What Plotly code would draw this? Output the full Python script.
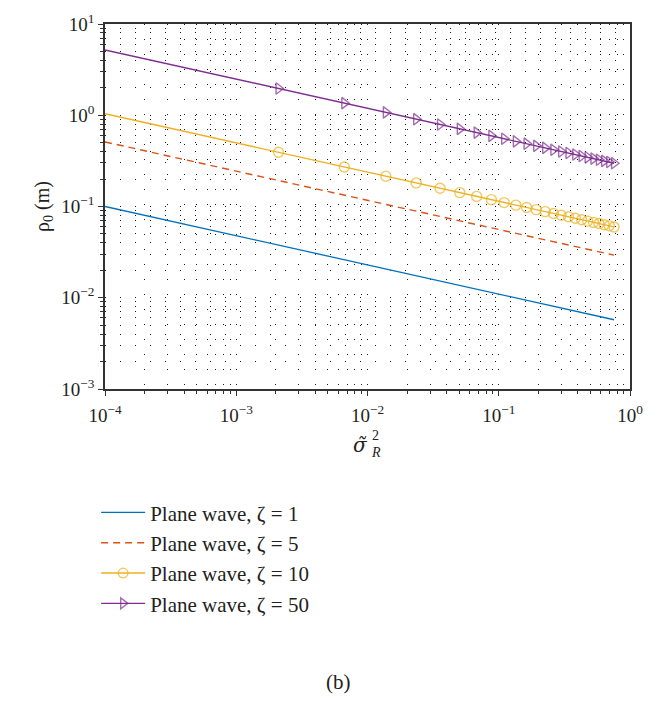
import plotly.graph_objects as go

# x values (sigma_R^2) for each sample point
x_vals = [0.0001, 0.0021, 0.00666, 0.0138, 0.0235, 0.0357, 0.0505, 0.0679, 0.0879,
          0.110, 0.135, 0.163, 0.193, 0.226, 0.261, 0.299, 0.340, 0.383, 0.428,
          0.476, 0.527, 0.580, 0.636, 0.695, 0.756]

rho_z1 = [0.1, 0.0378, 0.0261, 0.0207, 0.0174, 0.0152, 0.0136, 0.0124, 0.0114,
          0.0106, 0.00995, 0.00938, 0.00888, 0.00845, 0.00806, 0.00772, 0.00742,
          0.00714, 0.00689, 0.00665, 0.00644, 0.00625, 0.00607, 0.0059, 0.00574]
rho_z5 = [0.51, 0.1926, 0.1331, 0.1054, 0.0889, 0.0777, 0.0696, 0.0633, 0.0583,
          0.0542, 0.0507, 0.0478, 0.0453, 0.0431, 0.0411, 0.0394, 0.0378, 0.0364,
          0.0351, 0.0339, 0.0328, 0.0319, 0.0310, 0.0301, 0.0293]
rho_z10 = [1.04, 0.3927, 0.2713, 0.2150, 0.1813, 0.1585, 0.1419, 0.1291, 0.1189,
           0.1104, 0.1035, 0.0976, 0.0924, 0.0879, 0.0838, 0.0803, 0.0772, 0.0743,
           0.0716, 0.0692, 0.0670, 0.0650, 0.0631, 0.0614, 0.0597]
rho_z50 = [5.2, 1.964, 1.357, 1.075, 0.906, 0.792, 0.709, 0.645, 0.594, 0.552,
           0.517, 0.488, 0.462, 0.439, 0.419, 0.401, 0.386, 0.371, 0.358, 0.346,
           0.335, 0.325, 0.316, 0.307, 0.298]

series_names = ["Plane wave, ζ = 1", "Plane wave, ζ = 5",
                "Plane wave, ζ = 10", "Plane wave, ζ = 50"]

x_major = [1e-4, 1e-3, 1e-2, 1e-1, 1e0]
x_major_text = ["10<sup>−4</sup>", "10<sup>−3</sup>", "10<sup>−2</sup>",
                "10<sup>−1</sup>", "10<sup>0</sup>"]
y_major = [1e-3, 1e-2, 1e-1, 1e0, 1e1]
y_major_text = ["10<sup>−3</sup>", "10<sup>−2</sup>", "10<sup>−1</sup>",
                "10<sup>0</sup>", "10<sup>1</sup>"]

FONT = "Liberation Serif"
TXT = "#231f20"
marker_sizes = [0] + [10] * (len(x_vals) - 1)

fig = go.Figure()
fig.add_trace(go.Scatter(x=x_vals, y=rho_z1, mode="lines", name=series_names[0],
                         legendgroup="a", line=dict(color="#0072BD", width=1.3)))
fig.add_trace(go.Scatter(x=x_vals, y=rho_z5, mode="lines", name=series_names[1],
                         legendgroup="b",
                         line=dict(color="#D95319", width=1.4, dash="7px,5px")))
fig.add_trace(go.Scatter(x=x_vals, y=rho_z10, mode="lines+markers", name=series_names[2],
                         legendgroup="c", line=dict(color="#EDB120", width=1.4),
                         marker=dict(symbol="circle-open", size=marker_sizes,
                                     color="#EDB120", line=dict(width=1.4))))
fig.add_trace(go.Scatter(x=x_vals, y=rho_z50, mode="lines+markers", name=series_names[3],
                         legendgroup="d", line=dict(color="#7E2F8E", width=1.4),
                         marker=dict(symbol="triangle-right-open", size=marker_sizes,
                                     color="#7E2F8E", line=dict(width=1.4))))

x_minor = [k * 10.0 ** e for e in range(-4, 0) for k in range(2, 10)]
y_minor = [k * 10.0 ** e for e in range(-3, 1) for k in range(2, 10)]

grid = dict(gridcolor="rgba(0,0,0,0.9)", gridwidth=1, griddash="1px,14px")

fig.update_xaxes(type="log", range=[-4, 0], tickvals=x_major, ticktext=x_major_text,
                 showline=True, linecolor="#333", linewidth=1.5, mirror=True,
                 ticks="outside", ticklen=5, tickcolor="#333", tickwidth=1.2,
                 showgrid=True, **grid, zeroline=False, ticklabeloverflow="allow",
                 ticklabelstandoff=3,
                 tickfont=dict(family=FONT, size=19, color=TXT),
                 minor=dict(tickvals=x_minor, ticks="outside", ticklen=3,
                            tickcolor="#333", showgrid=True, **grid))
fig.update_yaxes(type="log", range=[-3, 1], tickvals=y_major, ticktext=y_major_text,
                 showline=True, linecolor="#333", linewidth=1.5, mirror=True,
                 ticks="outside", ticklen=5, tickcolor="#333", tickwidth=1.2,
                 showgrid=True, **grid, zeroline=False, ticklabeloverflow="allow",
                 tickfont=dict(family=FONT, size=19, color=TXT),
                 title=dict(text="ρ<sub>0</sub> (m)", font=dict(family=FONT, size=20, color=TXT),
                            standoff=6),
                 minor=dict(tickvals=y_minor, ticks="outside", ticklen=3,
                            tickcolor="#333", showgrid=True, **grid))

PL, PR, PT, PB = 105, 16, 11, 318
W, H = 654, 707
pw, ph = W - PL - PR, H - PT - PB

def px(xp):
    return (xp - PL) / pw

def py(yp):
    return (H - PB - yp) / ph

annots = [
    dict(text="<i>σ̃</i>", x=px(364), y=py(447), size=20, family="DejaVu Serif"),
    dict(text="2", x=px(380), y=py(437), size=14, family=FONT),
    dict(text="<i>R</i>", x=px(380), y=py(455), size=14, family=FONT),
    dict(text="(b)", x=px(342), y=py(692), size=21, family=FONT),
]
for a in annots:
    fig.add_annotation(xref="paper", yref="paper", showarrow=False,
                       xanchor="center", yanchor="middle",
                       text=a["text"], x=a["x"], y=a["y"],
                       font=dict(family=a["family"], color=TXT, size=a["size"]))

fig.update_layout(
    width=W, height=H,
    margin=dict(l=PL, r=PR, t=PT, b=PB),
    plot_bgcolor="white", paper_bgcolor="white",
    font=dict(family=FONT, color=TXT),
    legend=dict(x=px(96), y=py(496), xanchor="left", yanchor="top",
                font=dict(family=FONT, size=21, color=TXT),
                tracegroupgap=0, bgcolor="rgba(0,0,0,0)", itemwidth=44),
    showlegend=True,
)

fig.write_html("out.html")
